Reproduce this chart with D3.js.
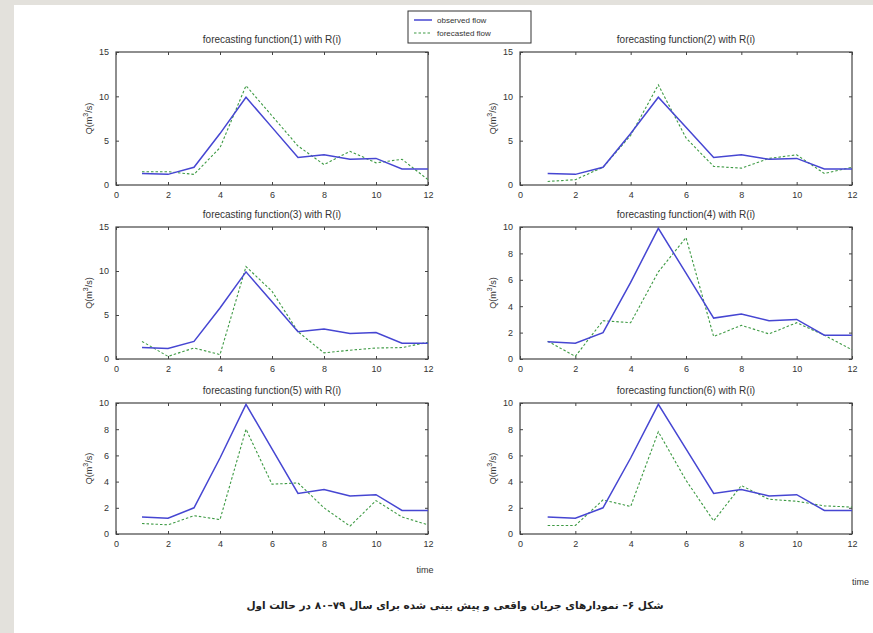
<!DOCTYPE html>
<html>
<head>
<meta charset="utf-8">
<script src="https://cdn.jsdelivr.net/npm/d3@7"></script>
<style>
  body { margin: 0; background: #fff; }
  text { font-family: "Liberation Sans", Arial, sans-serif; fill: #333; }
  .caption { font-family: "DejaVu Sans", sans-serif; font-weight: bold; fill: #222; }
</style>
</head>
<body>
<div id="svg-container"></div>
<script>
// data
const timeSteps = [1, 2, 3, 4, 5, 6, 7, 8, 9, 10, 11, 12];
const observedFlow = [1.3, 1.2, 2.0, 5.8, 9.9, 6.5, 3.1, 3.4, 2.9, 3.0, 1.8, 1.8];
const forecast1 = [1.5, 1.5, 1.2, 4.2, 11.2, 7.8, 4.4, 2.3, 3.8, 2.5, 2.9, 0.6];
const forecast2 = [0.4, 0.6, 2.0, 5.6, 11.3, 5.3, 2.1, 1.9, 3.0, 3.4, 1.3, 2.0];
const forecast3 = [2.0, 0.3, 1.25, 0.5, 10.5, 7.7, 3.1, 0.7, 1.0, 1.25, 1.3, 1.9];
const forecast4 = [1.35, 0.2, 2.9, 2.75, 6.6, 9.2, 1.7, 2.55, 1.9, 2.75, 1.8, 0.7];
const forecast5 = [0.8, 0.7, 1.4, 1.1, 8.0, 3.8, 3.9, 2.0, 0.6, 2.55, 1.3, 0.7];
const forecast6 = [0.65, 0.65, 2.6, 2.1, 7.8, 4.1, 1.0, 3.7, 2.65, 2.5, 2.15, 2.05];
const forecasts = [forecast1, forecast2, forecast3, forecast4, forecast5, forecast6];

const panelTitles = [
  "forecasting function(1) with  R(i)",
  "forecasting function(2) with R(i)",
  "forecasting function(3) with R(i)",
  "forecasting function(4) with R(i)",
  "forecasting function(5) with R(i)",
  "forecasting function(6) with R(i)",
];
const xTicks = [0, 2, 4, 6, 8, 10, 12];
const yTicksA = [0, 5, 10, 15];
const yTicksB = [0, 2, 4, 6, 8, 10];
const panelYTicks = [yTicksA, yTicksA, yTicksA, yTicksB, yTicksB, yTicksB];
const legendLabels = ["observed flow", "forecasted flow"];
const xLabel = "time";
const caption = "شکل ۶–  نمودارهای جریان واقعی و پیش بینی شده برای سال ۷۹–۸۰ در حالت اول";

// colors
const obsColor = "#4646d2";
const fcColor = "#3e9a44";

////////////////////////////  Init  ///////////////////////////////
const width = 873, height = 633;
const svg = d3.select("#svg-container").append("svg")
  .attr("width", width).attr("height", height);

// page background strips
svg.append("rect").attr("x", 0).attr("y", 0).attr("width", width).attr("height", 5).attr("fill", "#e3e1dc");
svg.append("rect").attr("x", 0).attr("y", 0).attr("width", 14).attr("height", height).attr("fill", "#e3e1dc");

// panel frames (layout)
const cols = [[116, 428], [520, 852]];
const rows = [[52, 185], [227, 359], [403, 534]];

forecasts.forEach((fc, k) => {
  const [x0, x1] = cols[k % 2];
  const [y0, y1] = rows[Math.floor(k / 2)];
  const yTicks = panelYTicks[k];

  const x = d3.scaleLinear().domain([0, 12]).range([x0, x1]);
  const y = d3.scaleLinear().domain([0, d3.max(yTicks)]).range([y1, y0]);

  const g = svg.append("g");

  // axes with inward ticks (matlab style)
  const axes = [
    [d3.axisBottom(x).tickValues(xTicks), `translate(0,${y1})`, true],
    [d3.axisTop(x).tickValues(xTicks), `translate(0,${y0})`, false],
    [d3.axisLeft(y).tickValues(yTicks), `translate(${x0},0)`, true],
    [d3.axisRight(y).tickValues(yTicks), `translate(${x1},0)`, false],
  ];
  axes.forEach(([ax, tr, showLabels]) => {
    const a = g.append("g")
      .attr("transform", tr)
      .call(ax.tickSizeInner(-3).tickSizeOuter(0).tickPadding(7).tickFormat(showLabels ? d3.format("d") : ""));
    a.select(".domain").remove();
    a.selectAll("line").attr("stroke", "#444");
    a.selectAll("text").style("font-size", "9px").attr("fill", "#333");
  });

  g.append("rect")
    .attr("x", x0).attr("y", y0)
    .attr("width", x1 - x0).attr("height", y1 - y0)
    .attr("fill", "none").attr("stroke", "#444").attr("stroke-width", 1.2);

  const line = d3.line()
    .x((d, i) => x(timeSteps[i]))
    .y((d) => y(d));

  g.append("path")
    .datum(fc)
    .attr("d", line)
    .attr("fill", "none")
    .attr("stroke", fcColor)
    .attr("stroke-width", 1.1)
    .attr("stroke-dasharray", "2.5,2");

  g.append("path")
    .datum(observedFlow)
    .attr("d", line)
    .attr("fill", "none")
    .attr("stroke", obsColor)
    .attr("stroke-width", 1.5);

  // title
  g.append("text")
    .attr("x", (x0 + x1) / 2)
    .attr("y", y0 - 9)
    .attr("text-anchor", "middle")
    .style("font-size", "10px")
    .text(panelTitles[k]);

  // y label
  const yl = g.append("text")
    .attr("transform", `translate(${x0 - 24},${(y0 + y1) / 2}) rotate(-90)`)
    .attr("text-anchor", "middle")
    .style("font-size", "9px");
  yl.append("tspan").text("Q(m");
  yl.append("tspan").attr("dy", -4).style("font-size", "7px").text("3");
  yl.append("tspan").attr("dy", 4).text("/s)");
});

// x labels
svg.append("text").attr("x", 425).attr("y", 573).attr("text-anchor", "middle")
  .style("font-size", "9px").text(xLabel);
svg.append("text").attr("x", 852).attr("y", 585)
  .style("font-size", "9px").text(xLabel);

// legend
const legend = svg.append("g").attr("transform", "translate(408,11)");
legend.append("rect").attr("width", 123).attr("height", 32)
  .attr("fill", "#fff").attr("stroke", "#333").attr("stroke-width", 1);
legend.selectAll(".lg-line")
  .data(legendLabels)
  .enter()
  .append("line")
  .attr("x1", 6).attr("x2", 24)
  .attr("y1", (d, i) => 9 + i * 13).attr("y2", (d, i) => 9 + i * 13)
  .attr("stroke", (d, i) => (i === 0 ? obsColor : fcColor))
  .attr("stroke-width", (d, i) => (i === 0 ? 1.5 : 1.1))
  .attr("stroke-dasharray", (d, i) => (i === 0 ? null : "2.5,2"));
legend.selectAll(".lg-text")
  .data(legendLabels)
  .enter()
  .append("text")
  .attr("x", 29)
  .attr("y", (d, i) => 12 + i * 13)
  .style("font-size", "8px")
  .text((d) => d);

// caption (persian, right to left)
svg.append("text")
  .attr("class", "caption")
  .attr("x", 455).attr("y", 609)
  .attr("text-anchor", "middle")
  .attr("direction", "rtl")
  .style("font-size", "10.5px")
  .text(caption);
</script>
</body>
</html>
